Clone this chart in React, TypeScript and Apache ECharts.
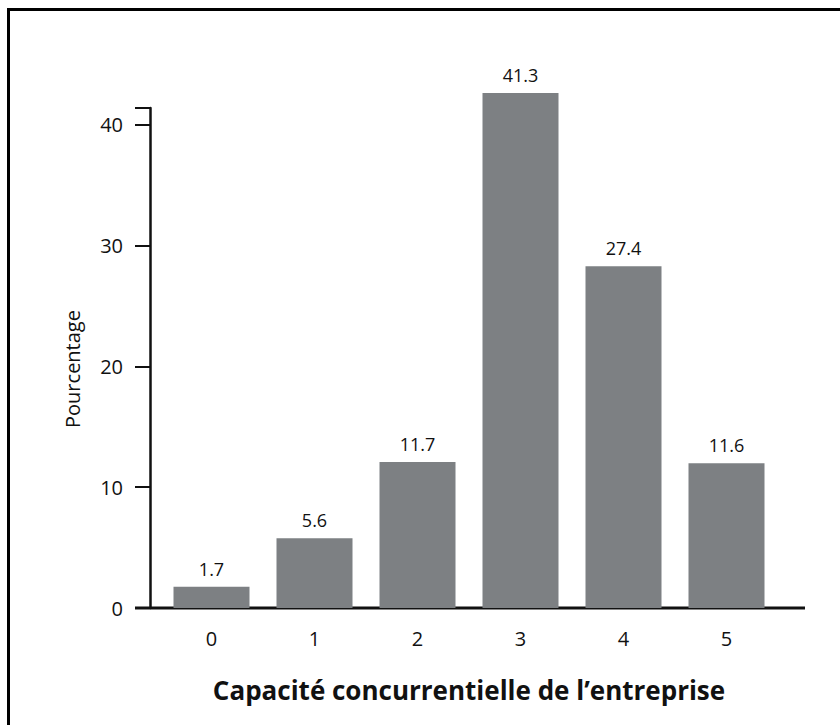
import React, { useEffect, useRef } from "react";
import * as echarts from "echarts";

const categories = ["0", "1", "2", "3", "4", "5"];
const percentages = [1.7, 5.6, 11.7, 41.3, 27.4, 11.6];
const yTicks = [0, 10, 20, 30, 40];
const xTitle = "Capacité concurrentielle de l’entreprise";
const yTitle = "Pourcentage";

export default function App() {
  const ref = useRef<HTMLDivElement>(null);
  useEffect(() => {
    if (!ref.current) return;
    const chart = echarts.init(ref.current, null, { renderer: "svg" });
    const font = "'Open Sans', 'Noto Sans', sans-serif";
    chart.setOption({
      animation: false,
      backgroundColor: "#ffffff",
      grid: { left: 160, right: 62, top: 108, bottom: 117 },
      xAxis: {
        type: "category",
        data: categories,
        axisLine: { show: false },
        axisTick: { show: false },
        axisLabel: { fontSize: 20, fontFamily: font, color: "#111", margin: 20 },
        name: xTitle,
        nameLocation: "middle",
        nameGap: 69,
        nameTextStyle: { fontSize: 26, fontWeight: "bold", fontFamily: font, color: "#111" },
      },
      yAxis: [
        {
          type: "value",
          min: 0,
          max: 41.4,
          interval: 10,
          offset: 10,
          splitLine: { show: false },
          axisLine: { show: true, lineStyle: { color: "#111", width: 2.5 } },
          axisTick: { show: true, length: 15, lineStyle: { color: "#111", width: 2 } },
          axisLabel: {
            fontSize: 20,
            fontFamily: font,
            color: "#111",
            margin: 27,
            customValues: yTicks,
          },
        },
        {
          type: "value",
          min: 0,
          max: 40.1,
          show: false,
          splitLine: { show: false },
        },
      ],
      series: [
        {
          type: "bar",
          yAxisIndex: 1,
          clip: false,
          data: percentages,
          barWidth: 76,
          itemStyle: { color: "#7d8083" },
          label: {
            show: true,
            position: "top",
            distance: 9,
            fontSize: 18,
            fontFamily: font,
            color: "#111",
            formatter: (p: any) => p.value.toFixed(1),
          },
        },
      ],
      graphic: [
        {
          type: "line",
          shape: { x1: 135, y1: 608, x2: 805, y2: 608 },
          style: { stroke: "#111", lineWidth: 3 },
        },
        {
          type: "line",
          shape: { x1: 7, y1: 9.5, x2: 840, y2: 9.5 },
          style: { stroke: "#000", lineWidth: 3 },
        },
        {
          type: "line",
          shape: { x1: 8.5, y1: 8, x2: 8.5, y2: 725 },
          style: { stroke: "#000", lineWidth: 3 },
        },
        {
          type: "text",
          x: 72,
          y: 369,
          rotation: Math.PI / 2,
          style: {
            text: yTitle,
            fontSize: 20,
            fontFamily: font,
            fill: "#111",
            textAlign: "center",
            textVerticalAlign: "middle",
          },
        },
      ],
    });
    return () => chart.dispose();
  }, []);
  return (
    <div style={{ position: "fixed", left: 0, top: 0, width: 840, height: 725, background: "#fff" }}>
      <div ref={ref} style={{ width: 840, height: 725 }} />
    </div>
  );
}
